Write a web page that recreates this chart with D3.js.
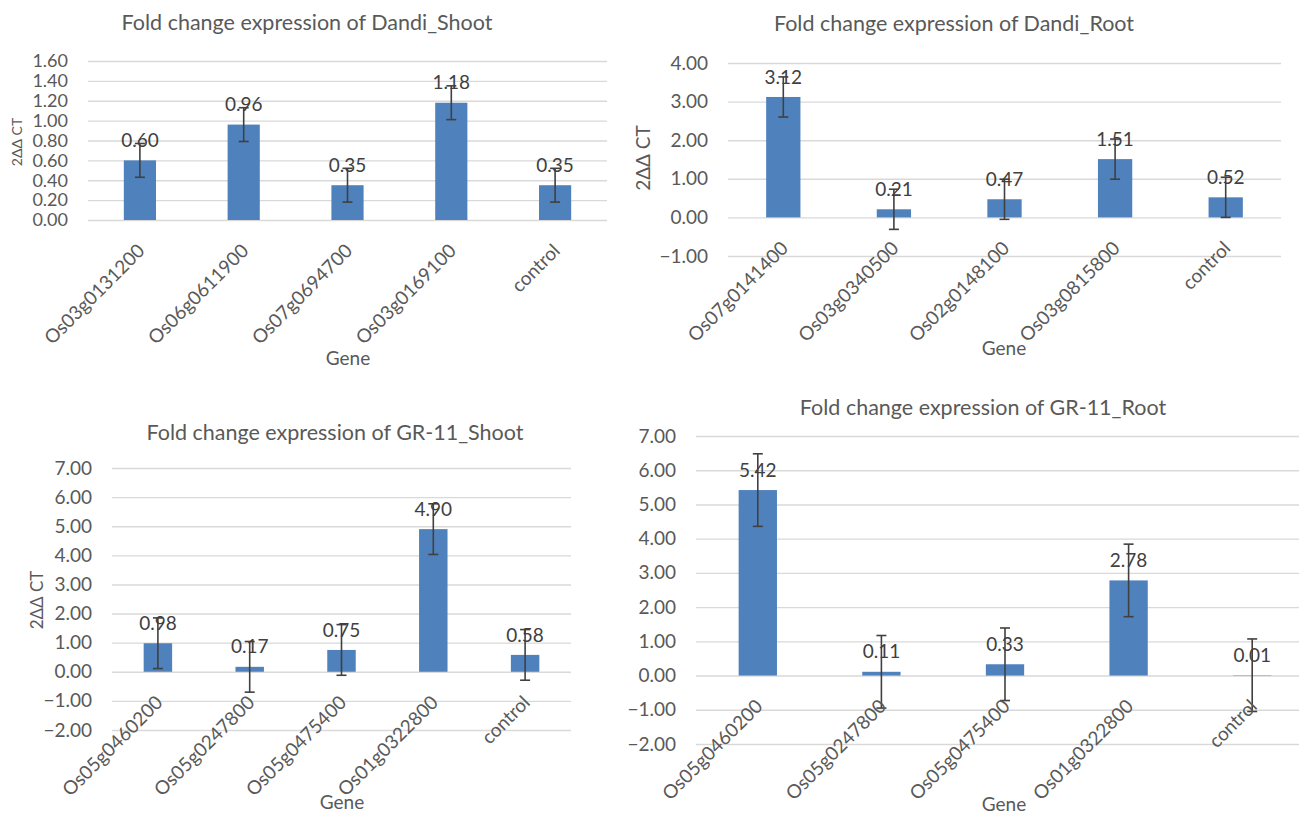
<!DOCTYPE html>
<html>
<head>
<meta charset="utf-8">
<script src="https://cdn.jsdelivr.net/npm/d3@7"></script>
<style>
  html, body { margin: 0; padding: 0; background: #ffffff; }
  svg { display: block; font-family: Lato, "Noto Sans", "DejaVu Sans", sans-serif; }
</style>
</head>
<body>
<svg id="chart" width="1299" height="816"></svg>
<script>
// ---------- Data ----------
const dandiShootGenes = ["Os03g0131200", "Os06g0611900", "Os07g0694700", "Os03g0169100", "control"];
const dandiShootValues = [0.60, 0.96, 0.35, 1.18, 0.35];
const dandiShootErrors = [0.17, 0.17, 0.17, 0.17, 0.17];
const dandiShootTicks = [0, 0.2, 0.4, 0.6, 0.8, 1.0, 1.2, 1.4, 1.6];

const dandiRootGenes = ["Os07g0141400", "Os03g0340500", "Os02g0148100", "Os03g0815800", "control"];
const dandiRootValues = [3.12, 0.21, 0.47, 1.51, 0.52];
const dandiRootErrors = [0.52, 0.52, 0.52, 0.52, 0.52];
const dandiRootTicks = [-1, 0, 1, 2, 3, 4];

const grShootGenes = ["Os05g0460200", "Os05g0247800", "Os05g0475400", "Os01g0322800", "control"];
const grShootValues = [0.98, 0.17, 0.75, 4.90, 0.58];
const grShootErrors = [0.87, 0.87, 0.87, 0.87, 0.87];
const grShootTicks = [-2, -1, 0, 1, 2, 3, 4, 5, 6, 7];

const grRootGenes = ["Os05g0460200", "Os05g0247800", "Os05g0475400", "Os01g0322800", "control"];
const grRootValues = [5.42, 0.11, 0.33, 2.78, 0.01];
const grRootErrors = [1.06, 1.06, 1.06, 1.06, 1.06];
const grRootTicks = [-2, -1, 0, 1, 2, 3, 4, 5, 6, 7];

const titles = [
  "Fold change expression of Dandi_Shoot",
  "Fold change expression of Dandi_Root",
  "Fold change expression of GR-11_Shoot",
  "Fold change expression of GR-11_Root"
];
const xAxisTitle = "Gene";
const yAxisTitle = "2ΔΔ CT";

// ---------- Layout (positions only) ----------
const panels = [
  { genes: dandiShootGenes, values: dandiShootValues, errors: dandiShootErrors, ticks: dandiShootTicks,
    title: titles[0], x0: 88, x1: 607, yTop: 61, yBot: 220, tickSize: 18,
    titleX: 307, titleY: 22, geneX: 348, geneY: 358, yLabX: 17, yLabY: 142, yLabSize: 14 },
  { genes: dandiRootGenes, values: dandiRootValues, errors: dandiRootErrors, ticks: dandiRootTicks,
    title: titles[1], x0: 728, x1: 1281, yTop: 63, yBot: 256, tickSize: 19,
    titleX: 954, titleY: 23, geneX: 1004, geneY: 348, yLabX: 643, yLabY: 158, yLabSize: 19 },
  { genes: grShootGenes, values: grShootValues, errors: grShootErrors, ticks: grShootTicks,
    title: titles[2], x0: 112, x1: 571, yTop: 468, yBot: 730, tickSize: 19,
    titleX: 335, titleY: 432, geneX: 342, geneY: 802, yLabX: 37, yLabY: 600, yLabSize: 17 },
  { genes: grRootGenes, values: grRootValues, errors: grRootErrors, ticks: grRootTicks,
    title: titles[3], x0: 696, x1: 1314, yTop: 436, yBot: 744, tickSize: 19,
    titleX: 983, titleY: 407, geneX: 1004, geneY: 804, yLabX: null }
];

const svg = d3.select("#chart");
const textColor = "#595959";
const gridColor = "#d9d9d9";
const barColor = "#4f81bd";
const errColor = "#404040";
const fmt = d3.format(".2f");

panels.forEach(p => {
  const g = svg.append("g");
  const ext = d3.extent(p.ticks);
  const y = d3.scaleLinear().domain([ext[0], ext[1]]).range([p.yBot, p.yTop]);
  const x = d3.scalePoint().domain(p.genes).range([p.x0, p.x1]).padding(0.5);
  const step = x.step();
  const bw = step * 0.31;

  // gridlines + tick labels via axis
  const axis = d3.axisLeft(y).tickValues(p.ticks).tickFormat(fmt)
    .tickSize(-(p.x1 - p.x0)).tickPadding(20);
  const ag = g.append("g").attr("transform", `translate(${p.x0},0)`).call(axis);
  ag.select(".domain").remove();
  ag.selectAll(".tick line").attr("stroke", gridColor).attr("stroke-width", 1.4);
  ag.selectAll(".tick text").attr("fill", textColor).attr("font-size", p.tickSize)
    .attr("font-family", "Lato, sans-serif");

  // bars
  const data = p.genes.map((gname, i) => ({ g: gname, v: p.values[i], e: p.errors[i] }));
  g.selectAll("rect.bar").data(data).enter().append("rect")
    .attr("class", "bar")
    .attr("x", d => x(d.g) - bw / 2)
    .attr("width", bw)
    .attr("y", d => y(Math.max(0, d.v)))
    .attr("height", d => Math.abs(y(d.v) - y(0)))
    .attr("fill", barColor);

  // data labels
  g.selectAll("text.dl").data(data).enter().append("text")
    .attr("class", "dl")
    .attr("x", d => x(d.g))
    .attr("y", d => y(d.v) - 20)
    .attr("dy", "0.35em")
    .attr("text-anchor", "middle")
    .attr("fill", "#404040")
    .attr("font-size", 19)
    .text(d => fmt(d.v));

  // error bars
  const eg = g.selectAll("g.err").data(data).enter().append("g").attr("class", "err")
    .attr("stroke", errColor).attr("stroke-width", 1.6);
  eg.append("line")
    .attr("x1", d => x(d.g)).attr("x2", d => x(d.g))
    .attr("y1", d => y(d.v + d.e)).attr("y2", d => y(d.v - d.e));
  eg.append("line")
    .attr("x1", d => x(d.g) - 5).attr("x2", d => x(d.g) + 5)
    .attr("y1", d => y(d.v + d.e)).attr("y2", d => y(d.v + d.e));
  eg.append("line")
    .attr("x1", d => x(d.g) - 5).attr("x2", d => x(d.g) + 5)
    .attr("y1", d => y(d.v - d.e)).attr("y2", d => y(d.v - d.e));

  // category labels
  g.selectAll("text.cat").data(p.genes).enter().append("text")
    .attr("class", "cat")
    .attr("transform", d => `translate(${x(d) + 6},${y(0) + 32}) rotate(-45)`)
    .attr("text-anchor", "end")
    .attr("fill", textColor)
    .attr("font-size", 19)
    .text(d => d);

  // title
  g.append("text").attr("x", p.titleX).attr("y", p.titleY).attr("dy", "0.35em")
    .attr("text-anchor", "middle").attr("fill", textColor).attr("font-size", 21.5)
    .text(p.title);

  // x axis title
  g.append("text").attr("x", p.geneX).attr("y", p.geneY).attr("dy", "0.35em")
    .attr("text-anchor", "middle").attr("fill", textColor).attr("font-size", 19)
    .text(xAxisTitle);

  // y axis title
  if (p.yLabX !== null) {
    g.append("text")
      .attr("transform", `translate(${p.yLabX},${p.yLabY}) rotate(-90)`)
      .attr("dy", "0.35em")
      .attr("text-anchor", "middle").attr("fill", textColor).attr("font-size", p.yLabSize)
      .text(yAxisTitle);
  }
});
</script>
</body>
</html>
